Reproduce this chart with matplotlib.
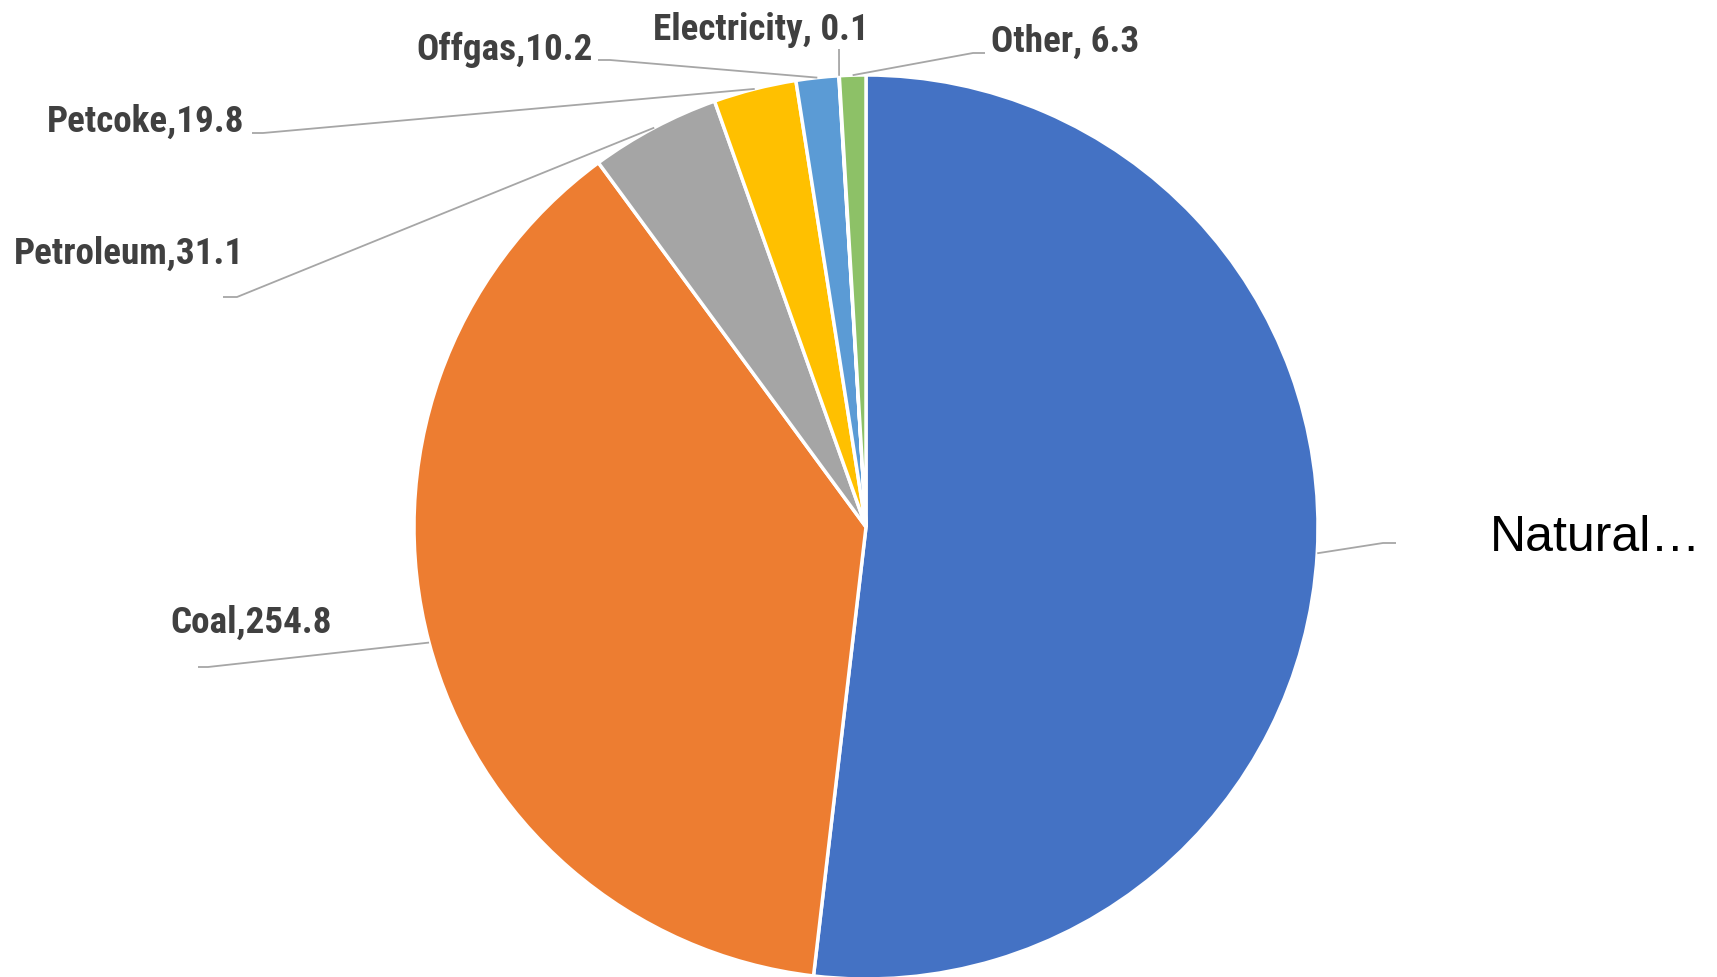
import numpy as np
import matplotlib
matplotlib.use("Agg")
import matplotlib.pyplot as plt
from matplotlib import font_manager

# Energy consumption by fuel source
categories = ["Natural gas", "Coal", "Petroleum", "Petcoke", "Offgas", "Electricity", "Other"]
values = [347.1, 254.8, 31.1, 19.8, 10.2, 0.1, 6.3]
label_texts = ["Natural\u2026", "Coal,254.8", "Petroleum,31.1", "Petcoke,19.8",
               "Offgas,10.2", "Electricity, 0.1", "Other, 6.3"]
colors = ["#4472C4", "#ED7D31", "#A5A5A5", "#FFC000", "#5B9BD5", "#264478", "#8DC167"]

W, H = 1717, 977
CX, CY, R = 866, 527, 452          # pie centre / radius in pixel units (y down)

# label layout: text anchor (x, baseline y), alignment, leader elbow, leader end
label_layout = [
    dict(xy=(1490, 551), ha="left",  elbow=(1383, 543), tail=(1396, 543)),
    dict(xy=(332, 633),  ha="right", elbow=(208, 667),  tail=(198, 667)),
    dict(xy=(244, 264),  ha="right", elbow=(237, 297),  tail=(223, 297)),
    dict(xy=(244, 132),  ha="right", elbow=(263, 133),  tail=(252, 133)),
    dict(xy=(593, 60),   ha="right", elbow=(610, 60),   tail=(598, 60)),
    dict(xy=(653, 40),   ha="left",  elbow=(839, 49),   tail=(839, 49)),
    dict(xy=(991, 52),   ha="left",  elbow=(973, 53),   tail=(985, 53)),
]


def fy(y):
    return H - y


def pick_narrow_font():
    for fam in ["Liberation Sans Narrow", "Arial Narrow", "Roboto Condensed",
                "Open Sans Condensed", "Noto Sans Condensed"]:
        try:
            font_manager.findfont(font_manager.FontProperties(family=fam, weight="bold"),
                                  fallback_to_default=False)
            return [fam, "DejaVu Sans"], 26.7
        except Exception:
            continue
    return ["Liberation Sans", "DejaVu Sans"], 23.0


bold_font, bold_size = pick_narrow_font()

fig = plt.figure(figsize=(W / 100, H / 100), dpi=100)
ax = fig.add_axes([0, 0, 1, 1])

ax.pie(values, colors=colors, startangle=90, counterclock=False,
       radius=R, center=(CX, fy(CY)),
       wedgeprops=dict(edgecolor="white", linewidth=2.5, antialiased=True))

ax.set_xlim(0, W)
ax.set_ylim(0, H)
ax.set_aspect("equal")
ax.axis("off")

# leader lines start on the rim at each slice's mid-angle
total = float(np.sum(values))
cum = np.cumsum([0] + values)
mid = (cum[:-1] + cum[1:]) / 2 / total * 2 * np.pi   # clockwise from 12 o'clock
leader_color = "#A6A6A6"

for i, (txt, lay) in enumerate(zip(label_texts, label_layout)):
    ax_x = CX + R * np.sin(mid[i])
    ax_y = CY - R * np.cos(mid[i])
    ex, ey = lay["elbow"]
    tx, ty = lay["tail"]
    ax.plot([ax_x, ex, tx], [fy(ax_y), fy(ey), fy(ty)],
            color=leader_color, lw=1.3, solid_capstyle="butt", zorder=3)
    x, y = lay["xy"]
    if i == 0:
        ax.text(x, fy(y), txt, ha=lay["ha"], va="baseline", fontsize=36,
                color="#000000", family=["Liberation Sans", "DejaVu Sans"])
    else:
        ax.text(x, fy(y), txt, ha=lay["ha"], va="baseline", fontsize=bold_size,
                fontweight="bold", color="#404040", family=bold_font)

fig.savefig("out.png", dpi=100, facecolor="white")
